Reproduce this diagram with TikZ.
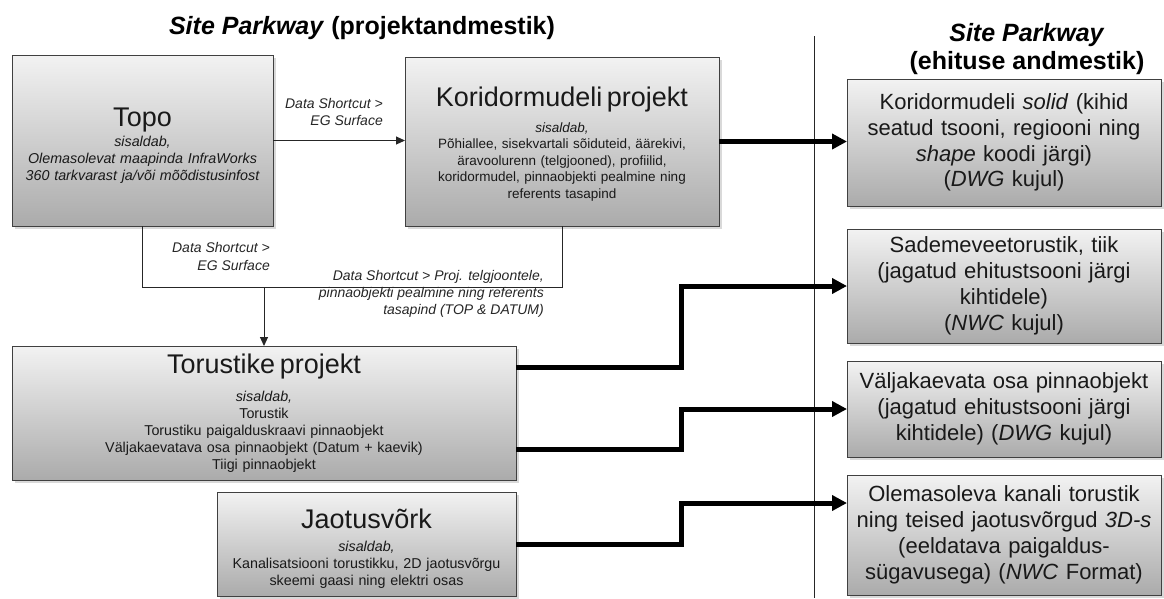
\documentclass[tikz,border=0pt]{standalone}
\usepackage{fontspec}
\setmainfont{Liberation Sans}
\usetikzlibrary{arrows.meta,shadows}

\newcommand\titlefont{\fontsize{27}{30}\selectfont}
\newcommand\notefont{\fontsize{14.3}{17}\selectfont}
\newcommand\exportfont{\fontsize{22}{25.8}\selectfont}
\newcommand\headfont{\fontsize{25}{28}\selectfont\bfseries}
\newcommand\lift[1]{\rule{0pt}{#1}}% extra room above a box title

\tikzset{
	projbox/.style={draw=black!75, line width=1pt, top color=black!5, bottom color=black!33,
		drop shadow={shadow xshift=2.5pt, shadow yshift=-2.5pt, opacity=.3},
		inner sep=0pt, outer sep=0pt, align=center, text=black!90, font=\notefont},
	shortcut/.style={draw=black!85, line width=1pt},
	feed/.style={draw=black, line width=5pt, -{Triangle[length=15pt,width=15pt]}},
	dslabel/.style={font=\fontsize{14}{17.5}\selectfont\itshape, align=right, anchor=east, text=black!85, inner sep=0pt},
}

\begin{document}
\begin{tikzpicture}[x=1pt,y=-1pt]
		\useasboundingbox (0,0) rectangle (1164,598);
		\def\bendx{681}
		% headings
			\node [font=\headfont] (head1) at (362,28) {\textit{Site Parkway} (projektandmestik)};
			\node [font=\headfont, align=center] (head2) at (1027,49) {\textit{Site Parkway}\\(ehituse andmestik)};
			\draw [line width=1pt, black!85] (814,36) -- (814,598);
		% project boxes
			\node [projbox, minimum width=261pt, minimum height=171pt, text width=255pt] (topo) at (142.5,140.5)
				{{\titlefont\lift{29pt}Topo}\\[3.5pt]\itshape sisaldab,\\ Olemasolevat maapinda InfraWorks\\ 360 tarkvarast ja/või mõõdistusinfost};
			\node [projbox, minimum width=314pt, minimum height=169pt, text width=308pt, font=\fontsize{13.5}{16.5}\selectfont] (koridor) at (562,141.5)
				{{\titlefont\lift{25pt}Koridormudeli projekt}\\[9pt]\textit{sisaldab,}\\ Põhiallee, sisekvartali sõiduteid, äärekivi,\\ äravoolurenn (telgjooned), profiilid,\\ koridormudel, pinnaobjekti pealmine ning\\ referents tasapind};
			\node [projbox, minimum width=504pt, minimum height=134pt, text width=498pt] (torustike) at (264,413)
				{{\titlefont Torustike projekt}\\[10.5pt]\textit{sisaldab,}\\ Torustik\\ Torustiku paigalduskraavi pinnaobjekt\\ Väljakaevatava osa pinnaobjekt (Datum + kaevik)\\ Tiigi pinnaobjekt};
			\node [projbox, minimum width=299pt, minimum height=104pt, text width=293pt] (jaotus) at (366.5,544)
				{{\titlefont\lift{28.5pt}Jaotusvõrk}\\[6.5pt]\textit{sisaldab,}\\ Kanalisatsiooni torustikku, 2D jaotusvõrgu\\ skeemi gaasi ning elektri osas};
		% construction boxes
			\node [projbox, font=\exportfont, minimum width=314pt, minimum height=127pt, text width=308pt] (solid) at (1004,142.5)
				{Koridormudeli \textit{solid} (kihid\\ seatud tsooni, regiooni ning\\ \textit{shape} koodi järgi)\\ (\textit{DWG} kujul)};
			\node [projbox, font=\exportfont, minimum width=314pt, minimum height=114pt, text width=308pt] (sademe) at (1004,286)
				{Sademeveetorustik, tiik\\ (jagatud ehitustsooni järgi\\ kihtidele)\\ (\textit{NWC} kujul)};
			\node [projbox, font=\exportfont, minimum width=314pt, minimum height=96pt, text width=308pt] (kaeve) at (1004,409)
				{Väljakaevata osa pinnaobjekt\\ (jagatud ehitustsooni järgi\\ kihtidele) (\textit{DWG} kujul)};
			\node [projbox, font=\exportfont, minimum width=314pt, minimum height=120pt, text width=308pt] (olemas) at (1004,535)
				{Olemasoleva kanali torustik\\ ning teised jaotusvõrgud \textit{3D-s}\\ (eeldatava paigaldus-\\ sügavusega) (\textit{NWC} Format)};
		% data shortcuts
			\coordinate (bus) at (0,287);
			\draw [shortcut, -{Triangle[length=9pt,width=8pt]}] (topo.east) -- (topo.east -| koridor.west);
			\draw [shortcut] (topo.south) |- (bus -| koridor.south) -- (koridor.south);
			\draw [shortcut, -{Triangle[length=9pt,width=8pt]}] (bus -| torustike.north) -- (torustike.north);
			\node [dslabel] (egright) at (383,112) {Data Shortcut >\\ EG Surface};
			\node [dslabel] (egdown) at (270,256.5) {Data Shortcut >\\ EG Surface};
			\node [dslabel, font=\fontsize{14}{17}\selectfont\itshape] (projlabel) at (544,294) {Data Shortcut > Proj. telgjoontele,\\ pinnaobjekti pealmine ning referents\\ tasapind (TOP \& DATUM)};
		% export arrows
			\coordinate (pipeA) at (0,367);
			\coordinate (pipeB) at (0,449);
			\coordinate (netin) at (0,503);
			\draw [feed] (koridor.east) -- (koridor.east -| solid.west);
			\draw [feed] (torustike.east |- pipeA) -- (\bendx,367) |- (sademe.west);
			\draw [feed] (torustike.east |- pipeB) -- (\bendx,449) |- (kaeve.west);
			\draw [feed] (jaotus.east) -- (\bendx,544) |- (olemas.west |- netin);
	\end{tikzpicture}
\end{document}
